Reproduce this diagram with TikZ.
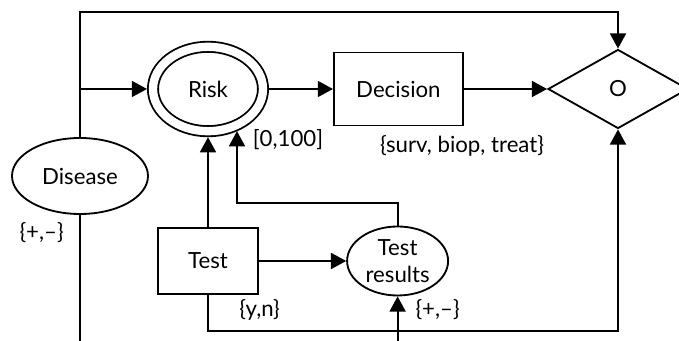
\documentclass[tikz,border=0pt]{standalone}
\usepackage{fontspec}
\setmainfont{Lato}
\usepackage{tikz}
\usetikzlibrary{shapes.geometric, arrows.meta}

\begin{document}
\begin{tikzpicture}[line width = 1.3pt, font = \fontsize{15.8}{19}\selectfont,
	chance/.style = {draw, ellipse, inner sep = 0pt},
	box/.style = {draw, rectangle, inner sep = 0pt},
	arr/.style = {-{Triangle[length=0.38cm, width=0.4cm]}},
	lbl/.style = {inner sep = 0pt}]

	\useasboundingbox (0, 0) rectangle (16.975, 8.525);

	\node[chance, minimum width = 3.4cm, minimum height = 1.9cm] (Disease) at (2, 4.125) {Disease};
	\node[chance, double, double distance = 0.208cm, outer sep = 0.15cm,
		minimum width = 2.75cm, minimum height = 2.11cm] (Risk) at (5.2, 6.3) {Risk};
	\node[box, minimum width = 3.225cm, minimum height = 1.825cm] (Decision) at (9.96, 6.3) {Decision};
	\node[draw, diamond, inner sep = 0pt, aspect = 1.77,
		minimum width = 3.5cm, minimum height = 1.975cm] (O) at (15.45, 6.3) {O};
	\node[box, minimum width = 2.5cm, minimum height = 1.65cm] (Test) at (5.2, 2) {Test};
	\node[chance, align = center, minimum width = 2.525cm, minimum height = 1.725cm] (results) at (9.94, 2) {Test\\results};

	\coordinate (top) at (2, 8.225);
	\coordinate (bend) at (5.925, 3.45);
	\coordinate (bottom) at (5.2, 0.25);
	\coordinate (dis-end) at (2, -0.1);
	\coordinate (res-in) at (9.94, -0.1);

	\draw[arr] (Disease.north) -- (top) -| (O.north);
	\draw[arr] (Disease.north |- Risk.west) -- (Risk.west);
	\draw[-] (Disease.south) -- (dis-end);
	\draw[arr] (Risk.east) -- (Decision.west);
	\draw[arr] (Decision.east) -- (O.west);
	\draw[arr] (Test.north) -- (Risk.south);
	\draw[arr] (results.north) |- (bend) -- (bend |- Risk.-55);
	\draw[arr] (Test.east) -- (results.west);
	\draw[arr] (Test.south) -- (bottom) -| (O.south);
	\draw[arr] (res-in) -- (results.south);

	\node[lbl, anchor = west] (l-risk) at (6.3, 5.025) {[0,100]};
	\node[lbl] (l-dec) at (11.55, 4.875) {\{surv, biop, treat\}};
	\node[lbl] (l-dis) at (1.04, 2.7) {\{+,–\}};
	\node[lbl] (l-test) at (6.49, 0.775) {\{y,n\}};
	\node[lbl] (l-res) at (10.94, 0.775) {\{+,–\}};

\end{tikzpicture}
\end{document}
